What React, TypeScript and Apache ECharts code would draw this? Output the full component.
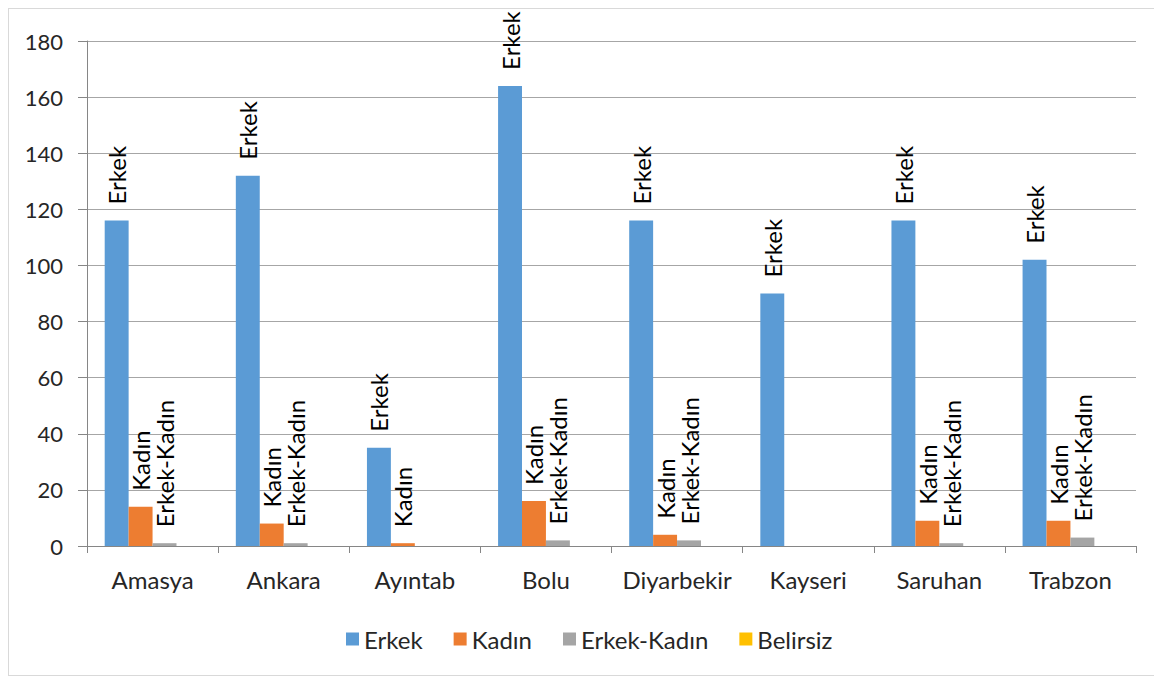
import React, { useEffect, useRef } from "react";
import * as echarts from "echarts";

const categories = ["Amasya", "Ankara", "Ayıntab", "Bolu", "Diyarbekir", "Kayseri", "Saruhan", "Trabzon"];
const seriesNames = ["Erkek", "Kadın", "Erkek-Kadın", "Belirsiz"];
const erkek = [116, 132, 35, 164, 116, 90, 116, 102];
const kadin = [14, 8, 1, 16, 4, 0, 9, 9];
const erkekKadin = [1, 1, 0, 2, 2, 0, 1, 3];
const belirsiz = [0, 0, 0, 0, 0, 0, 0, 0];
const colors = ["#5B9BD5", "#ED7D31", "#A5A5A5", "#FFC000"];
const yTicks = { min: 0, max: 180, interval: 20 };

const FONT = "Lato, 'Open Sans', sans-serif";

export default function App() {
  const ref = useRef<HTMLDivElement>(null);
  useEffect(() => {
    if (!ref.current) return;
    const chart = echarts.init(ref.current, undefined, { renderer: "svg" });
    const data = [erkek, kadin, erkekKadin, belirsiz];
    chart.setOption({
      animation: false,
      textStyle: { fontFamily: FONT },
      color: colors,
      grid: { left: 78, right: 23, top: 32, bottom: 129, containLabel: false },
      legend: {
        data: seriesNames,
        left: 332,
        top: 613,
        icon: "rect",
        itemWidth: 13,
        itemHeight: 13,
        itemGap: 31,
        textStyle: { fontSize: 24, color: "#262626", fontFamily: FONT },
      },
      xAxis: {
        type: "category",
        data: categories,
        axisLine: { lineStyle: { color: "#868686", width: 1 } },
        axisTick: { show: true, interval: 0, length: 7, lineStyle: { color: "#868686" } },
        axisLabel: { interval: 0, fontSize: 24, color: "#262626", margin: 21, fontFamily: FONT },
      },
      yAxis: {
        type: "value",
        min: yTicks.min,
        max: yTicks.max,
        interval: yTicks.interval,
        axisLine: { show: true, lineStyle: { color: "#868686", width: 1 } },
        axisTick: { show: true, length: 9, lineStyle: { color: "#868686" } },
        splitLine: { lineStyle: { color: "#a6a6a6", width: 1 } },
        axisLabel: { fontSize: 22, color: "#262626", margin: 24, fontFamily: FONT },
      },
      series: seriesNames.map((name, i) => ({
        name,
        type: "bar",
        data: data[i],
        barGap: "0%",
        barCategoryGap: "27%",
        itemStyle: { color: colors[i] },
        label: {
          show: true,
          position: "top",
          rotate: 90,
          align: "left",
          verticalAlign: "middle",
          distance: 16,
          fontSize: 24,
          color: "#000",
          fontFamily: FONT,
          formatter: (p: any) => (p.value > 0 ? p.seriesName : ""),
        },
      })),
    });
    return () => chart.dispose();
  }, []);
  return (
    <div
      ref={ref}
      style={{
        width: 1152,
        height: 668,
        border: "1px solid #d9d9d9",
        boxSizing: "border-box",
        background: "#fff",
      }}
    />
  );
}
